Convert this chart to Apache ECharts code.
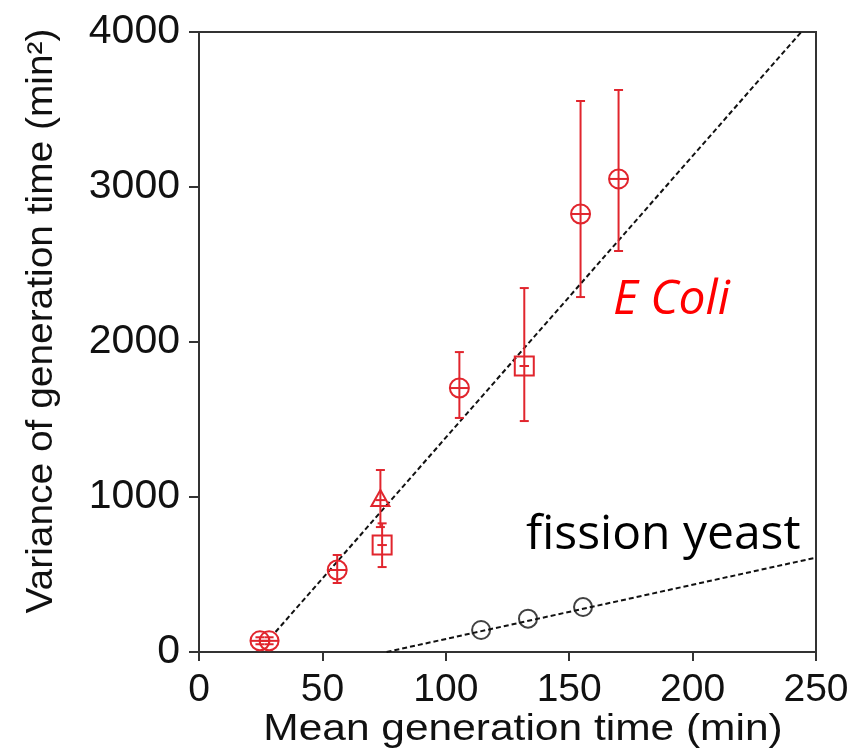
<!DOCTYPE html>
<html>
<head>
<meta charset="utf-8">
<script src="https://cdn.jsdelivr.net/npm/echarts@6/dist/echarts.min.js"></script>
<style>
    html, body { margin: 0; padding: 0; background: #fff; }
    #chart { width: 856px; height: 751px; }
</style>
</head>
<body>
<div id="chart"></div>
<script>
    // E. coli points (mean, variance, error bar low / high, marker shape)
    var ecoliX = [24.7, 28.4, 56, 73.5, 74.2, 105.5, 131.8, 154.6, 170];
    var ecoliY = [72, 72, 529, 980, 690, 1703, 1845, 2826, 3052];
    var ecoliLow = [50, 50, 445, 806, 548, 1510, 1490, 2290, 2587];
    var ecoliHigh = [95, 95, 626, 1174, 830, 1935, 2348, 3555, 3626];
    var ecoliShape = ['circle', 'circle', 'circle', 'triangle', 'square', 'circle', 'square', 'circle', 'circle'];

    // fission yeast points
    var yeastX = [114.3, 133.3, 155.6];
    var yeastY = [142, 215, 290];

    // dashed fit lines (end points)
    var ecoliFitX = [31, 244];
    var ecoliFitY = [129, 4000];
    var yeastFitX = [76, 250];
    var yeastFitY = [0, 609];

    var xTicks = [0, 50, 100, 150, 200, 250];
    var yTicks = [0, 1000, 2000, 3000, 4000];

    var RED = '#e1252d';

    function pairs(xs, ys) {
        return xs.map(function (x, i) { return [x, ys[i]]; });
    }

    var ecoliData = ecoliX.map(function (x, i) {
        return [x, ecoliY[i], ecoliLow[i], ecoliHigh[i], i];
    });

    // 误差棒 + 标记
    function renderEcoli(params, api) {
        var p = api.coord([api.value(0), api.value(1)]);
        var lo = api.coord([api.value(0), api.value(2)]);
        var hi = api.coord([api.value(0), api.value(3)]);
        var shape = ecoliShape[api.value(4)];
        var style = { stroke: RED, lineWidth: 2, fill: null };
        var cap = 4.5;
        var kids = [
            { type: 'line', shape: { x1: p[0], y1: lo[1], x2: p[0], y2: hi[1] }, style: style },
            { type: 'line', shape: { x1: p[0] - cap, y1: lo[1], x2: p[0] + cap, y2: lo[1] }, style: style },
            { type: 'line', shape: { x1: p[0] - cap, y1: hi[1], x2: p[0] + cap, y2: hi[1] }, style: style }
        ];
        var r = 9.5;
        if (shape === 'circle') {
            kids.push({ type: 'circle', shape: { cx: p[0], cy: p[1], r: r }, style: style });
            kids.push({ type: 'line', shape: { x1: p[0] - r, y1: p[1], x2: p[0] + r, y2: p[1] }, style: style });
        } else if (shape === 'square') {
            kids.push({ type: 'rect', shape: { x: p[0] - r, y: p[1] - r, width: 2 * r, height: 2 * r }, style: style });
            kids.push({ type: 'line', shape: { x1: p[0] - r / 2, y1: p[1], x2: p[0] + r / 2, y2: p[1] }, style: style });
        } else {
            kids.push({ type: 'polygon', shape: { points: [[p[0], p[1] - 10], [p[0] + 9, p[1] + 6], [p[0] - 9, p[1] + 6]] }, style: style });
            kids.push({ type: 'line', shape: { x1: p[0] - 5, y1: p[1], x2: p[0] + 5, y2: p[1] }, style: style });
        }
        return { type: 'group', children: kids };
    }

    var option = {
        backgroundColor: '#fff',
        animation: false,
        grid: {
            left: 199,
            right: 40,
            top: 32,
            bottom: 99,
            show: true,
            borderColor: '#333',
            borderWidth: 2
        },
        xAxis: {
            type: 'value',
            min: 0,
            max: 250,
            interval: 50,
            splitLine: { show: false },
            axisLine: { onZero: false, lineStyle: { color: '#333', width: 2 } },
            axisTick: { inside: false, length: 9, lineStyle: { color: '#333', width: 2 } },
            axisLabel: {
                margin: 19,
                fontFamily: 'Liberation Sans',
                fontSize: 39,
                color: '#111',
                formatter: function (v) { return xTicks.indexOf(v) >= 0 ? String(v) : ''; }
            }
        },
        yAxis: {
            type: 'value',
            min: 0,
            max: 4000,
            interval: 1000,
            splitLine: { show: false },
            axisLine: { onZero: false, lineStyle: { color: '#333', width: 2 } },
            axisTick: { inside: false, length: 10, lineStyle: { color: '#333', width: 2 } },
            axisLabel: {
                margin: 19,
                fontFamily: 'Liberation Sans',
                fontSize: 41,
                color: '#111',
                formatter: function (v) { return yTicks.indexOf(v) >= 0 ? String(v) : ''; }
            }
        },
        graphic: [
            // axis titles (stretched a little like the original)
            {
                type: 'text', x: 523, y: 730, scaleX: 1.18,
                style: {
                    text: 'Mean generation time (min)', fontFamily: 'Liberation Sans', fontSize: 36,
                    fill: '#111', align: 'center', verticalAlign: 'middle'
                }
            },
            {
                type: 'text', x: 42, y: 321, rotation: Math.PI / 2, scaleX: 1.08,
                style: {
                    text: 'Variance of generation time (min²)', fontFamily: 'Liberation Sans', fontSize: 36,
                    fill: '#111', align: 'center', verticalAlign: 'middle'
                }
            },
            {
                type: 'text', left: 613, top: 276,
                style: { text: 'E Coli', fontFamily: 'Open Sans', fontStyle: 'italic', fontSize: 48, fill: '#ff0000' }
            },
            {
                type: 'text', left: 526, top: 511,
                style: { text: 'fission yeast', fontFamily: 'Open Sans', fontSize: 48, fill: '#000' }
            }
        ],
        series: [
            {
                type: 'line',
                data: pairs(ecoliFitX, ecoliFitY),
                symbol: 'none',
                lineStyle: { color: '#111', width: 2, type: [5, 3] },
                z: 1
            },
            {
                type: 'line',
                data: pairs(yeastFitX, yeastFitY),
                symbol: 'none',
                lineStyle: { color: '#111', width: 2, type: [5, 3] },
                z: 1
            },
            {
                type: 'scatter',
                data: pairs(yeastX, yeastY),
                symbol: 'circle',
                symbolSize: 18,
                itemStyle: { color: 'rgba(0,0,0,0)', borderColor: '#111', borderWidth: 2 },
                z: 3
            },
            {
                type: 'custom',
                data: ecoliData,
                renderItem: renderEcoli,
                z: 4
            }
        ]
    };

    var chartObj = echarts.init(document.getElementById('chart'));
    chartObj.setOption(option);
</script>
</body>
</html>
